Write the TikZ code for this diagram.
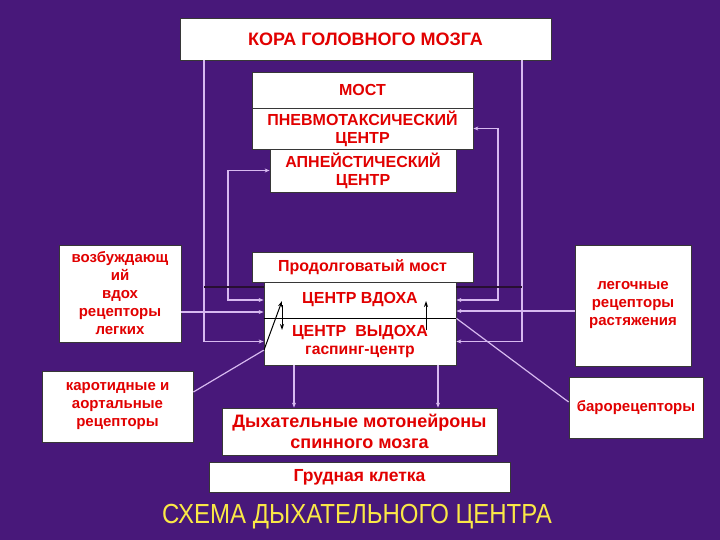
\documentclass[tikz,border=0pt]{standalone}
\usepackage{fontspec}
\setmainfont{Liberation Sans}
\usetikzlibrary{arrows.meta,calc}
\definecolor{bg}{RGB}{72,24,122}
\definecolor{lav}{RGB}{215,185,240}
\definecolor{txtred}{RGB}{225,0,0}
\definecolor{ttl}{RGB}{250,232,70}
\definecolor{edge}{RGB}{55,55,55}
\definecolor{darkln}{RGB}{40,15,50}
\begin{document}
\begin{tikzpicture}[x=1pt,y=-1pt,
  box/.style={draw=edge, line width=0.8pt, fill=white, inner sep=0pt, align=center,
    text=txtred, font=\bfseries\fontsize{16}{18}\selectfont},
  bigbox/.style={box, font=\bfseries\fontsize{18}{21}\selectfont},
  smallbox/.style={box, font=\bfseries\fontsize{15}{18}\selectfont},
  conn/.style={draw=lav, line width=1.2pt},
  arr/.style={conn, -{Stealth[length=5pt,width=4pt]}},
  dbl/.style={conn, {Stealth[length=5pt,width=4pt]}-{Stealth[length=5pt,width=4pt]}},
  blk/.style={draw=black, line width=1pt, -{Stealth[length=6pt,width=4pt]}},
  darkline/.style={draw=darkln, line width=1.2pt}
]
\fill[bg] (0,0) rectangle (720,540);
\useasboundingbox (0,0) rectangle (720,540);

% helper coordinates
\coordinate (xa) at (204,0);
\coordinate (xb) at (522,0);
\coordinate (xc) at (228,0);
\coordinate (xd) at (498,0);
\coordinate (xe) at (294,0);
\coordinate (xf) at (438,0);
\coordinate (y5) at (0,312);
\coordinate (y6) at (0,311);
\coordinate (y7) at (0,287);

% boxes
\node[bigbox, minimum width=371pt, minimum height=42pt] (kora) at (365.5,39) {КОРА ГОЛОВНОГО МОЗГА};
\node[box, minimum width=221pt, minimum height=36pt] (most) at (362.5,90) {МОСТ};
\node[box, minimum width=221pt, minimum height=41pt] (pnev) at (362.5,128.5) {ПНЕВМОТАКСИЧЕСКИЙ\\ЦЕНТР};
\node[box, minimum width=186pt, minimum height=43pt] (apn) at (363,170.5) {АПНЕЙСТИЧЕСКИЙ\\ЦЕНТР};
\node[box, minimum width=221pt, minimum height=30pt] (prod) at (362.5,267) {Продолговатый мост};
\node[box, minimum width=192pt, minimum height=36pt] (vdoh) at (360,300) {ЦЕНТР ВДОХА};
\node[box, minimum width=192pt, minimum height=47pt] (vyd) at (360,341.5) {ЦЕНТР\ \ ВЫДОХА\\{\fontsize{15.7}{18}\selectfont гаспинг-центр}};
\node[smallbox, minimum width=122pt, minimum height=97pt] (vozb) at (120,293.5) {возбуждающ\\ий\\вдох\\рецепторы\\легких};
\node[smallbox, minimum width=151pt, minimum height=71pt] (karot) at (117.5,406.5) {каротидные и\\аортальные\\рецепторы};
\node[smallbox, minimum width=116pt, minimum height=121pt] (leg) at (633,305.5) {легочные\\рецепторы\\растяжения};
\node[smallbox, minimum width=134pt, minimum height=61pt] (baro) at (636,407.5) {барорецепторы};
\node[bigbox, minimum width=275pt, minimum height=47pt] (motor) at (359.5,431.5) {Дыхательные мотонейроны\\спинного мозга};
\node[box, font=\bfseries\fontsize{17.5}{20}\selectfont, minimum width=301pt, minimum height=30pt] (grud) at (359.5,477) {Грудная клетка};
\node[text=ttl, font=\fontsize{24}{28}\selectfont, inner sep=0pt] (title) at (357,517) {\scalebox{1}[1.15]{СХЕМА ДЫХАТЕЛЬНОГО ЦЕНТРА}};

% divider in the centre box
\draw[draw=black, line width=1pt] (vdoh.south west) -- (vdoh.south east);

% connectors from cortex
\draw[arr] (kora.south -| xa) |- (vyd.west);
\draw[arr] (kora.south -| xb) |- (vyd.east);
\draw[dbl] (apn.west) -| (xc |- vdoh.west) -- (vdoh.west);
\draw[dbl] (pnev.east) -| (xd |- vdoh.east) -- (vdoh.east);
\draw[arr] (vozb.east |- y5) -- (vdoh.west |- y5);
\draw[arr] (leg.west |- y6) -- (vdoh.east |- y6);
\draw[darkline] (xa |- y7) -- (vdoh.west |- y7);
\draw[darkline] (vdoh.east |- y7) -- (xb |- y7);

% carotid and baroreceptor inputs
\coordinate (j1) at (264,350);
\coordinate (t1) at (282,301);
\coordinate (t2) at (282,305);
\coordinate (t3) at (282,330);
\coordinate (r1) at (426,330);
\coordinate (r2) at (426,301);
\draw[conn] ([yshift=14.5pt]karot.east) -- (j1);
\draw[blk] (j1) -- (t1);
\draw[blk] (t2) -- (t3);
\draw[blk] (r1) -- (r2);
\draw[conn] ([yshift=5.5pt]baro.west) -- (vdoh.south east);

% down to motor neurons
\draw[arr] (vyd.south -| xe) -- (motor.north -| xe);
\draw[arr] (vyd.south -| xf) -- (motor.north -| xf);
\end{tikzpicture}
\end{document}
